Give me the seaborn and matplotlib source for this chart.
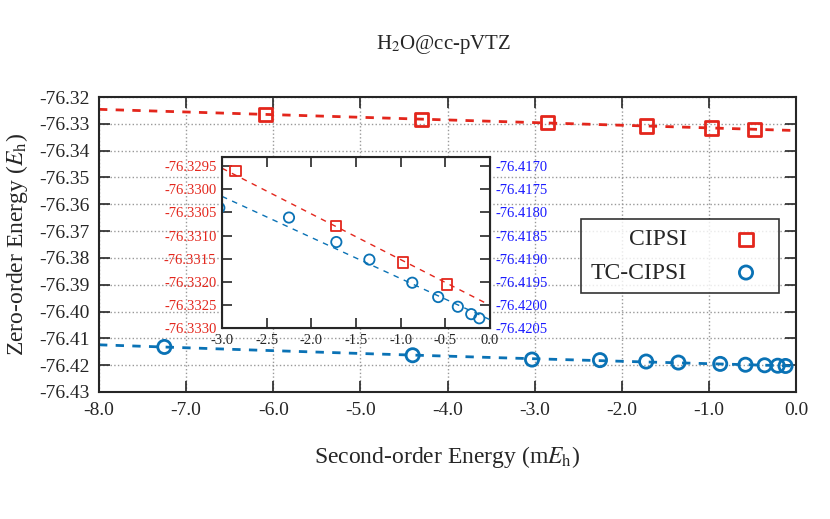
import numpy as np
import pandas as pd
import matplotlib
matplotlib.use('Agg')
import matplotlib.pyplot as plt
import seaborn as sns

sns.set_style('white')
plt.rcParams['font.family'] = 'Liberation Serif'
plt.rcParams['mathtext.fontset'] = 'stix'

# Data (energies in Eh, PT2 in mEh)
cipsi_pt2 = [-6.09, -4.30, -2.85, -1.72, -0.97, -0.48]
cipsi_e = [-76.3265, -76.3283, -76.3296, -76.33079, -76.33158, -76.33206]
tc_pt2 = [-7.25, -4.40, -3.03, -2.25, -1.72, -1.35, -0.87, -0.58, -0.36, -0.21, -0.12]
tc_e = [-76.4132, -76.4163, -76.4179, -76.41811, -76.41864, -76.41902,
        -76.41952, -76.41983, -76.42004, -76.4202, -76.42029]

red = '#e3261c'
blue = '#0a72b5'

df_c = pd.DataFrame({'pt2': cipsi_pt2, 'e': cipsi_e})
df_t = pd.DataFrame({'pt2': tc_pt2, 'e': tc_e})

fc = np.polyfit(cipsi_pt2, cipsi_e, 1)
ft = np.polyfit(tc_pt2, tc_e, 2)
xs = np.linspace(-8, 0, 200)

fig = plt.figure(figsize=(8.3, 5.19), dpi=100)
ax = fig.add_axes([99 / 830, 1 - 392 / 519, 697 / 830, 295 / 519])

ax.plot(xs, np.polyval(fc, xs), color=red, ls=(0, (3, 3)), lw=2)
ax.plot(xs, np.polyval(ft, xs), color=blue, ls=(0, (3, 3)), lw=2)
sns.scatterplot(data=df_c, x='pt2', y='e', ax=ax, marker='s', s=90,
                facecolor='none', edgecolor=red, linewidth=2, label='CIPSI')
sns.scatterplot(data=df_t, x='pt2', y='e', ax=ax, marker='o', s=90,
                facecolor='none', edgecolor=blue, linewidth=2, label='TC-CIPSI')

ax.set_xlim(-8, 0)
ax.set_ylim(-76.43, -76.32)
ax.set_xticks(np.arange(-8, 0.1, 1))
ax.set_xticklabels([f'{v:.1f}' for v in np.arange(-8, 0.1, 1)])
ax.set_yticks(np.arange(-76.43, -76.315, 0.01))
ax.set_yticklabels([f'{v:.2f}' for v in np.arange(-76.43, -76.315, 0.01)])
ax.tick_params(direction='in', length=8, labelsize=14, bottom=True, left=True,
               top=True, right=True, width=1.2, pad=7)
ax.grid(True, ls=':', color='#999999', lw=1)
for s in ax.spines.values():
    s.set_linewidth(1.5)
ax.set_xlabel('Second-order Energy (m$E_\\mathrm{h}$)', fontsize=17, labelpad=18)
ax.set_ylabel('Zero-order Energy ($E_\\mathrm{h}$)', fontsize=17, labelpad=6)
fig.text(0.535, 0.905, 'H$_2$O@cc-pVTZ', ha='center', fontsize=15)

leg = ax.legend(loc='upper left', bbox_to_anchor=(0.675, 0.625), markerfirst=False,
                fontsize=17, frameon=True, fancybox=False, edgecolor='black',
                handletextpad=1.5, borderpad=0.4, labelspacing=0.5)
for t in leg.get_texts():
    t.set_ha('left')
leg.get_frame().set_linewidth(1.2)

# inset
ins = fig.add_axes([222 / 830, 1 - 328 / 519, 268 / 830, 171 / 519])
ins2 = ins.twinx()
xi = np.linspace(-3, 0, 100)
ins.plot(xi, np.polyval(fc, xi), color=red, ls=(0, (4, 4)), lw=1)
ins2.plot(xi, np.polyval(np.polyfit(tc_pt2[2:], tc_e[2:], 1), xi), color=blue, ls=(0, (4, 4)), lw=1)
sns.scatterplot(data=df_c, x='pt2', y='e', ax=ins, marker='s', s=55,
                facecolor='none', edgecolor=red, linewidth=1.3, legend=False)
sns.scatterplot(data=df_t, x='pt2', y='e', ax=ins2, marker='o', s=55,
                facecolor='none', edgecolor=blue, linewidth=1.3, legend=False)
ins.set_xlim(-3, 0)
ins.set_ylim(-76.3330, -76.3293)
ins2.set_ylim(-76.4205, -76.4168)
ins.set_xticks(np.arange(-3, 0.01, 0.5))
ins.set_xticklabels([f'{v:.1f}' for v in np.arange(-3, 0.01, 0.5)])
ly = np.arange(-76.3330, -76.3294, 0.0005)
ins.set_yticks(ly)
ins.set_yticklabels([f'{v:.4f}' for v in ly], color=red)
ry = np.arange(-76.4205, -76.4169, 0.0005)
ins2.set_yticks(ry)
ins2.set_yticklabels([f'{v:.4f}' for v in ry], color='#1a1aff')
ins.set_xlabel('')
ins.set_ylabel('')
ins2.set_ylabel('')
ins.tick_params(direction='in', length=7, labelsize=10.5, bottom=True, left=True,
                top=True, width=1.2, pad=4)
ins2.tick_params(direction='in', length=7, labelsize=10.5, right=True, width=1.2, pad=4)
for s in ins.spines.values():
    s.set_linewidth(1.5)

fig.savefig('out.png', dpi=100)
